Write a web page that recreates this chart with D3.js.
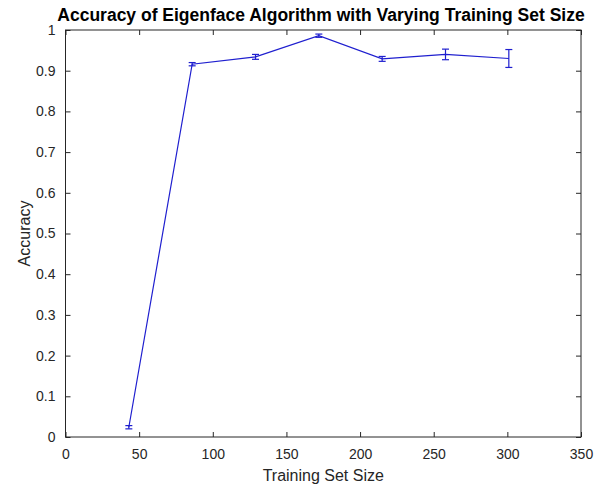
<!DOCTYPE html>
<html>
<head>
<meta charset="utf-8">
<script src="https://cdn.jsdelivr.net/npm/d3@7"></script>
<style>
  body { margin: 0; background: #fff; }
  svg text { font-family: "Liberation Sans", Arial, sans-serif; }
</style>
</head>
<body>
<div id="chart"></div>
<script>
// training set sizes and mean accuracy with error (half-width)
var sizes = [43, 86, 129, 172, 215, 258, 301];
var accuracy = [0.024, 0.916, 0.934, 0.986, 0.929, 0.940, 0.930];
var errors = [0.004, 0.004, 0.006, 0.004, 0.006, 0.013, 0.022];
var xTicks = [0, 50, 100, 150, 200, 250, 300, 350];
var yTicks = [0, 0.1, 0.2, 0.3, 0.4, 0.5, 0.6, 0.7, 0.8, 0.9, 1];

var W = 599, H = 487;
var plotL = 65.5, plotR = 581, plotT = 30, plotB = 437;
var axisColor = '#262626';
var lineColor = '#1f1fcf';

var svg = d3.select('#chart').append('svg')
  .attr('width', W)
  .attr('height', H);

var x = d3.scaleLinear().domain([0, 350]).range([plotL, plotR]);
var y = d3.scaleLinear().domain([0, 1]).range([plotB, plotT]);

// box
svg.append('rect')
  .attr('x', plotL).attr('y', plotT)
  .attr('width', plotR - plotL).attr('height', plotB - plotT)
  .attr('fill', 'none')
  .attr('stroke', axisColor)
  .attr('stroke-width', 1);

function styleAxis(g, showLabels) {
  g.select('.domain').remove();
  g.selectAll('line').attr('stroke', axisColor);
  g.selectAll('text')
    .attr('fill', axisColor)
    .style('font-size', '14px')
    .style('display', showLabels ? null : 'none');
}

var fmt = function(d) { return d3.format('')(d); };

svg.append('g')
  .attr('transform', 'translate(0,' + plotB + ')')
  .call(d3.axisBottom(x).tickValues(xTicks).tickSize(-5).tickPadding(12).tickFormat(fmt))
  .call(function(g) { styleAxis(g, true); });

svg.append('g')
  .attr('transform', 'translate(0,' + plotT + ')')
  .call(d3.axisTop(x).tickValues(xTicks).tickSize(-5))
  .call(function(g) { styleAxis(g, false); });

svg.append('g')
  .attr('transform', 'translate(' + plotL + ',0)')
  .call(d3.axisLeft(y).tickValues(yTicks).tickSize(-5).tickPadding(10).tickFormat(fmt))
  .call(function(g) { styleAxis(g, true); });

svg.append('g')
  .attr('transform', 'translate(' + plotR + ',0)')
  .call(d3.axisRight(y).tickValues(yTicks).tickSize(-5))
  .call(function(g) { styleAxis(g, false); });

// line
var pts = sizes.map(function(s, i) { return { x: s, y: accuracy[i], e: errors[i] }; });

svg.append('path')
  .datum(pts)
  .attr('fill', 'none')
  .attr('stroke', lineColor)
  .attr('stroke-width', 1.2)
  .attr('d', d3.line().x(function(d) { return x(d.x); }).y(function(d) { return y(d.y); }));

// error bars
var eb = svg.append('g').attr('stroke', lineColor).attr('stroke-width', 1.2);
pts.forEach(function(d) {
  var cx = x(d.x), y0 = y(d.y - d.e), y1 = y(d.y + d.e);
  eb.append('line').attr('x1', cx).attr('x2', cx).attr('y1', y0).attr('y2', y1);
  eb.append('line').attr('x1', cx - 3.5).attr('x2', cx + 3.5).attr('y1', y0).attr('y2', y0);
  eb.append('line').attr('x1', cx - 3.5).attr('x2', cx + 3.5).attr('y1', y1).attr('y2', y1);
});

// title and labels
svg.append('text')
  .attr('x', 321)
  .attr('y', 21)
  .attr('text-anchor', 'middle')
  .style('font-size', '17.5px')
  .style('font-weight', 'bold')
  .attr('fill', '#000')
  .text('Accuracy of Eigenface Algorithm with Varying Training Set Size');

svg.append('text')
  .attr('x', (plotL + plotR) / 2)
  .attr('y', 481)
  .attr('text-anchor', 'middle')
  .style('font-size', '16px')
  .attr('fill', axisColor)
  .text('Training Set Size');

svg.append('text')
  .attr('transform', 'translate(30,' + (plotT + plotB) / 2 + ') rotate(-90)')
  .attr('text-anchor', 'middle')
  .style('font-size', '16px')
  .attr('fill', axisColor)
  .text('Accuracy');
</script>
</body>
</html>
